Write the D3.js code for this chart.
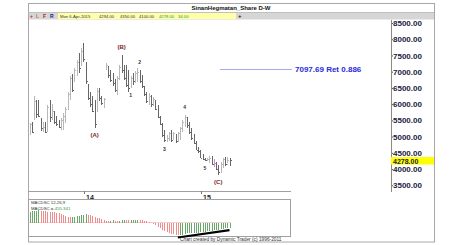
<!DOCTYPE html>
<html>
<head>
<meta charset="utf-8">
<script src="https://cdn.jsdelivr.net/npm/d3@7"></script>
<style>
body { margin: 0; background: #fff; }
svg { display: block; font-family: "Liberation Sans", Arial, sans-serif; }
</style>
</head>
<body>
<script>
//wrap everything in a self-executing anonymous function
(function(){

//weekly bars, first week Mon 15-Jul-2013, last week Mon 6-Apr-2015
var firstWeek = new Date(2013, 6, 15);
var opens = [5100,5380,5550,6100,5700,5500,5250,5300,5200,5900,5600,5750,5450,5400,5300,5450,5600,5850,6300,6800,
             6700,7000,7300,7200,7650,7250,6600,6200,6100,5800,5800,6400,6200,6050,7100,7150,6900,6800,6700,6400,
             6800,7100,7050,6850,6600,6550,6800,6700,6900,7000,6800,6500,6300,6100,6250,6000,6100,5900,5600,5400,
             5050,4900,4950,5050,4950,5050,4850,5100,5250,5450,5550,5350,5150,4950,4800,4600,4550,4350,4300,4280,
             4250,4350,4150,4150,4000,3900,4100,4300,4150,4294];
var highs = [5420,5450,6250,6120,6120,5570,5450,5450,5970,6120,6000,5780,5630,5510,5570,5720,5910,6370,6860,6930,
             7110,7360,7570,7730,7880,7300,6620,6370,6250,6120,6490,6490,6250,6190,7270,7170,7050,6960,6770,6860,
             7200,7510,7200,7200,7050,6860,6960,7020,7110,7050,6900,6560,6370,6340,6280,6220,6120,5970,5630,5410,
             5200,5040,5140,5200,5140,5080,5140,5290,5510,5660,5600,5450,5260,5080,4860,4670,4580,4460,4330,4330,
             4400,4400,4300,4210,4120,4210,4330,4370,4370,4350];
var lows = [5050,5100,5500,5570,5600,5170,5140,5100,5140,5450,5510,5380,5320,5260,5200,5200,5410,5820,6120,6370,
            6680,6860,6960,7170,7300,6620,6120,5910,5750,5260,5750,6090,5970,5880,7050,6800,6680,6560,6370,6280,
            6740,6960,6740,6520,6370,6490,6590,6650,6680,6650,6490,6250,6030,5970,5910,5940,5820,5570,5350,4980,
            4830,4830,4860,4830,4890,4800,4830,4890,5140,5290,5260,5080,4890,4770,4580,4490,4330,4270,4240,4240,
            4180,4120,4060,3960,3810,3870,4020,4090,4180,4100];
var closes = [5380,5150,6100,5700,5650,5250,5300,5150,5900,5600,5800,5450,5400,5300,5500,5650,5850,6300,6800,6450,
              7050,7300,7100,7650,7400,6700,6200,6000,5800,5400,6400,6200,6050,6150,7200,6900,6750,6650,6450,6800,
              7150,7050,6800,6600,6500,6800,6700,6950,7000,6700,6550,6300,6100,6250,6000,6150,5850,5600,5400,5050,
              4900,4950,5100,4900,5100,4850,5100,5250,5450,5600,5350,5150,4950,4800,4600,4550,4350,4300,4280,4300,
              4350,4150,4200,4000,3900,4150,4300,4150,4294,4278];
//MACD oscillator, one value per week
var macd = [960,1000,1050,1080,1100,1070,1040,1000,990,980,960,930,880,820,760,700,600,520,480,500,
            540,580,620,680,720,740,720,660,600,500,440,380,300,250,180,150,170,190,160,140,
            180,220,240,220,200,210,230,250,270,260,230,180,120,60,0,-120,-250,-400,-520,-650,
            -780,-880,-950,-1020,-1070,-1120,-1150,-1130,-1080,-1020,-980,-960,-950,-940,-930,-900,-880,-850,-820,-790,
            -760,-730,-700,-670,-640,-600,-570,-530,-490,-455];
var macdLast = -455.341;
//divergence line under the oscillator: [week index, value]
var divergence = [[66, -1350], [89, -690]];

var priceTicks = [3500, 4000, 4500, 5000, 5500, 6000, 6500, 7000, 7500, 8000, 8500];
var yearTicks = [new Date(2014, 0, 1), new Date(2015, 0, 1)];
var yearLabels = ["14", "15"];

//Elliott wave labels: text, bar index, which end of the bar
var waveText = ["(A)", "(B)", "(C)", "1", "2", "3", "4", "5"];
var waveBar = [29, 41, 84, 45, 49, 60, 69, 78];
var waveEnd = ["low", "high", "low", "low", "high", "low", "high", "low"];

var retLevel = 7097.69, retRatio = 0.886;
var lastClose = 4278;
var markedBar = 82;
var quote = ["Mon 6-Apr-2015", "4294.00", "4350.00", "4100.00", "4278.00", "34.00"];

var width = 465, height = 245;

var svg = d3.select("body")
    .append("svg")
    .attr("width", width)
    .attr("height", height);

var weeks = d3.range(opens.length).map(function(i){
    return d3.timeWeek.offset(firstWeek, i);
});

//scales
var x = d3.scaleTime()
    .domain([weeks[0], weeks[weeks.length - 1]])
    .range([29.5, 229.5]);
var y = d3.scaleLinear()
    .domain([3500, 8500])
    .range([185.3, 23]);
var yOsc = d3.scaleLinear()
    .domain([-1305, 2115])
    .range([237, 199]);

function px(d){ return Math.round(x(d)) + 0.5; }

drawFrame();
drawPrice();
drawOscillator();

function drawFrame(){
    //title strip and toolbar
    svg.append("rect")
        .attr("x", 28).attr("y", 12.5)
        .attr("width", 406).attr("height", 7)
        .attr("fill", "#d6d6d6");
    svg.append("rect")
        .attr("x", 58).attr("y", 13)
        .attr("width", 178).attr("height", 6)
        .attr("fill", "#ffffa8");

    svg.append("text")
        .attr("x", 231).attr("y", 9.5)
        .attr("text-anchor", "middle")
        .attr("font-size", "6px")
        .attr("font-weight", "bold")
        .attr("fill", "#111")
        .text("SinanHegmatan_Share D-W");

    var flags = [["+", "#d42020", 30], ["L", "#c08000", 36], ["F", "#b02020", 43], ["R", "#202090", 50]];
    svg.selectAll(".flag")
        .data(flags)
        .enter()
        .append("text")
        .attr("class", "flag")
        .attr("x", function(d){ return d[2]; })
        .attr("y", 18)
        .attr("font-size", "5px")
        .attr("font-weight", "bold")
        .attr("fill", function(d){ return d[1]; })
        .text(function(d){ return d[0]; });

    var quoteX = [60, 99, 120, 139, 159, 178];
    svg.selectAll(".quote")
        .data(quote)
        .enter()
        .append("text")
        .attr("class", "quote")
        .attr("x", function(d, i){ return quoteX[i]; })
        .attr("y", 17.8)
        .attr("font-size", "4.2px")
        .attr("fill", function(d, i){ return i >= 4 ? "#2a9a2a" : "#333"; })
        .text(function(d){ return d; });

    svg.append("text")
        .attr("x", 238).attr("y", 18)
        .attr("font-size", "6px")
        .attr("font-weight", "bold")
        .attr("fill", "#222")
        .text("+");

    //outer border
    svg.append("rect")
        .attr("x", 28.5).attr("y", 3.5)
        .attr("width", 406).attr("height", 238.5)
        .attr("fill", "none")
        .attr("stroke", "#a8a8a8");
    svg.append("line")
        .attr("x1", 28).attr("x2", 434)
        .attr("y1", 12.5).attr("y2", 12.5)
        .attr("stroke", "#c0c0c0");
};

function drawPrice(){
    //bottom of price pane
    svg.append("line")
        .attr("x1", 28).attr("x2", 291)
        .attr("y1", 191.5).attr("y2", 191.5)
        .attr("stroke", "#a0a0a0");

    //year ticks
    var years = svg.selectAll(".year")
        .data(yearTicks)
        .enter()
        .append("g")
        .attr("class", "year")
        .attr("transform", function(d){ return "translate(" + px(d) + ",0)"; });
    years.append("line")
        .attr("y1", 191).attr("y2", 194)
        .attr("stroke", "#777");
    years.append("text")
        .attr("x", 1.5).attr("y", 199.5)
        .attr("font-size", "7px")
        .attr("font-weight", "bold")
        .attr("fill", "#222")
        .text(function(d, i){ return yearLabels[i]; });

    //retracement level
    svg.append("line")
        .attr("x1", 220).attr("x2", 292)
        .attr("y1", Math.round(y(retLevel)) + 0.5)
        .attr("y2", Math.round(y(retLevel)) + 0.5)
        .attr("stroke", "#a8a8f0");
    svg.append("text")
        .attr("x", 295).attr("y", y(retLevel) + 3)
        .attr("font-size", "8px")
        .attr("font-weight", "bold")
        .attr("fill", "#2a2ae0")
        .text(retLevel.toFixed(2) + " Ret " + retRatio.toFixed(3));

    //OHLC bars
    var bars = svg.selectAll(".bar")
        .data(weeks)
        .enter()
        .append("g")
        .attr("class", "bar")
        .attr("shape-rendering", "crispEdges")
        .attr("stroke", function(d, i){
            if (i == markedBar) return "#e080e0";
            return closes[i] >= opens[i] ? "#b8b8b8" : "#666";
        });
    bars.append("line")
        .attr("x1", function(d){ return px(d); })
        .attr("x2", function(d){ return px(d); })
        .attr("y1", function(d, i){ return y(highs[i]); })
        .attr("y2", function(d, i){ return y(lows[i]); });
    bars.append("line")
        .attr("x1", function(d){ return px(d) - 1; })
        .attr("x2", function(d){ return px(d); })
        .attr("y1", function(d, i){ return Math.round(y(opens[i])) + 0.5; })
        .attr("y2", function(d, i){ return Math.round(y(opens[i])) + 0.5; });
    bars.append("line")
        .attr("x1", function(d){ return px(d); })
        .attr("x2", function(d){ return px(d) + 1; })
        .attr("y1", function(d, i){ return Math.round(y(closes[i])) + 0.5; })
        .attr("y2", function(d, i){ return Math.round(y(closes[i])) + 0.5; });

    //wave labels
    svg.selectAll(".wave")
        .data(waveText)
        .enter()
        .append("text")
        .attr("class", "wave")
        .attr("x", function(d, i){ return x(weeks[waveBar[i]]); })
        .attr("y", function(d, i){
            var b = waveBar[i];
            return waveEnd[i] == "low" ? y(lows[b]) + 9 : y(highs[b]) - 6;
        })
        .attr("text-anchor", "middle")
        .attr("font-size", function(d){ return d.length > 1 ? "6px" : "5px"; })
        .attr("font-weight", "bold")
        .attr("fill", function(d){ return d.length > 1 ? "#7a1e1e" : "#333"; })
        .text(function(d){ return d; });

    //price axis on the right
    var yAxis = d3.axisRight(y)
        .tickValues(priceTicks)
        .tickSize(2)
        .tickPadding(0)
        .tickFormat(d3.format(".2f"));
    var axis = svg.append("g")
        .attr("class", "axis")
        .attr("transform", "translate(391,0)")
        .call(yAxis);
    axis.select(".domain").remove();
    axis.selectAll("line").attr("stroke", "#555");
    axis.selectAll("text")
        .attr("font-size", "8px")
        .attr("font-weight", "bold")
        .attr("font-family", "Liberation Sans, Arial, sans-serif")
        .attr("fill", "#1c1c3c");
    svg.append("line")
        .attr("x1", 391.5).attr("x2", 391.5)
        .attr("y1", 20).attr("y2", 192)
        .attr("stroke", "#888");

    //last price marker
    svg.append("rect")
        .attr("x", 391).attr("y", y(lastClose) - 3)
        .attr("width", 43).attr("height", 7.5)
        .attr("fill", "#ffff00");
    svg.append("text")
        .attr("x", 393).attr("y", y(lastClose) + 3.6)
        .attr("font-size", "7px")
        .attr("font-weight", "bold")
        .attr("fill", "#1c1c3c")
        .text(lastClose.toFixed(2));
};

function drawOscillator(){
    //pane box
    svg.append("rect")
        .attr("x", 28.5).attr("y", 199.5)
        .attr("width", 262).attr("height", 37)
        .attr("fill", "none")
        .attr("stroke", "#a0a0a0");

    svg.append("line")
        .attr("x1", 29).attr("x2", 231)
        .attr("y1", yOsc(0)).attr("y2", yOsc(0))
        .attr("stroke", "#f2d2d2");

    svg.selectAll(".osc")
        .data(weeks)
        .enter()
        .append("line")
        .attr("class", "osc")
        .attr("shape-rendering", "crispEdges")
        .attr("x1", function(d){ return px(d); })
        .attr("x2", function(d){ return px(d); })
        .attr("y1", yOsc(0))
        .attr("y2", function(d, i){ return yOsc(macd[i]); })
        .attr("stroke", function(d, i){
            return (i == 0 || macd[i] >= macd[i - 1]) ? "#6aa86a" : "#f28c8c";
        });

    //divergence line
    var line = d3.line()
        .x(function(d){ return x(weeks[d[0]]); })
        .y(function(d){ return yOsc(d[1]); });
    svg.append("path")
        .datum(divergence)
        .attr("d", line)
        .attr("stroke", "#000")
        .attr("stroke-width", 2.2)
        .attr("fill", "none");

    svg.append("text")
        .attr("x", 31).attr("y", 204)
        .attr("font-size", "4.3px")
        .attr("fill", "#333")
        .text("MACDSC 12,26,9");
    var val = svg.append("text")
        .attr("x", 31).attr("y", 210)
        .attr("font-size", "4.3px")
        .attr("fill", "#333")
        .text("MACDSC =");
    val.append("tspan")
        .attr("fill", "#2a9a2a")
        .text(macdLast.toFixed(3));

    svg.append("text")
        .attr("x", 180).attr("y", 241)
        .attr("font-size", "4.8px")
        .attr("fill", "#333")
        .text("Chart created by Dynamic Trader  (c) 1996-2011");
};

})();
</script>
</body>
</html>
